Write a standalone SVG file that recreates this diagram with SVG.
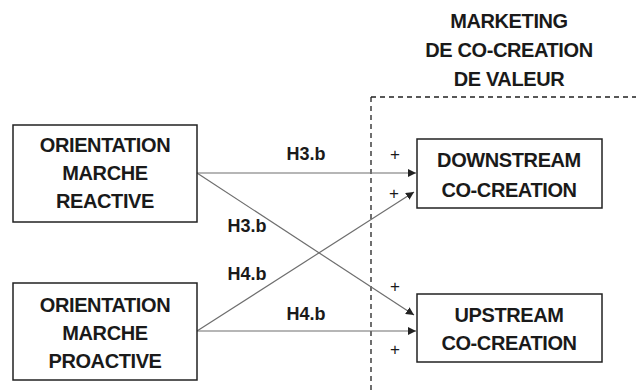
<svg xmlns="http://www.w3.org/2000/svg" width="636" height="390" viewBox="0 0 636 390">
<defs>
<style>
.box{fill:#fff;stroke:#222;stroke-width:1.5}
.t{font-family:"Liberation Sans",Arial,sans-serif;font-weight:bold;font-size:20px;letter-spacing:-0.4px;fill:#1a1a1a;text-anchor:middle}
.lbl{font-family:"Liberation Sans",Arial,sans-serif;font-weight:bold;font-size:18px;fill:#1a1a1a;text-anchor:middle}
.plus{font-family:"Liberation Sans",Arial,sans-serif;font-size:17px;fill:#1a1a1a;text-anchor:middle}
.edge{stroke:#6e6e6e;stroke-width:1.2;fill:none;marker-end:url(#ah)}
.dash{stroke:#222;stroke-width:1.3;stroke-dasharray:5,4;fill:none}
</style>
<marker id="ah" viewBox="0 0 10 10" refX="10" refY="5" markerWidth="8" markerHeight="8" markerUnits="userSpaceOnUse" orient="auto">
<path d="M0,0 L10,5 L0,10 z" fill="#222"/>
</marker>
</defs>
<rect width="636" height="390" fill="#fff"/>
<g id="region">
<path class="dash" d="M371,97 H636 M371,97 V390"/>
<text class="t" x="509" y="28">MARKETING</text>
<text class="t" x="509" y="57">DE CO-CREATION</text>
<text class="t" x="509" y="86">DE VALEUR</text>
</g>
<g id="connectors">
<line class="edge" x1="197" y1="173" x2="416" y2="173"/>
<line class="edge" x1="197" y1="173" x2="414" y2="315"/>
<line class="edge" x1="197" y1="331" x2="414" y2="192"/>
<line class="edge" x1="197" y1="331" x2="416" y2="331"/>
<text class="lbl" x="306" y="160">H3.b</text>
<text class="lbl" x="247" y="232">H3.b</text>
<text class="lbl" x="247" y="280">H4.b</text>
<text class="lbl" x="306" y="320">H4.b</text>
<text class="plus" x="395" y="160">+</text>
<text class="plus" x="394" y="199">+</text>
<text class="plus" x="395" y="292">+</text>
<text class="plus" x="395" y="355">+</text>
</g>
<g id="reactive">
<rect class="box" x="13" y="125" width="184" height="97"/>
<text class="t" x="105" y="152">ORIENTATION</text>
<text class="t" x="105" y="180">MARCHE</text>
<text class="t" x="105" y="208">REACTIVE</text>
</g>
<g id="proactive">
<rect class="box" x="13" y="283" width="184" height="97"/>
<text class="t" x="105" y="312">ORIENTATION</text>
<text class="t" x="105" y="340">MARCHE</text>
<text class="t" x="105" y="368">PROACTIVE</text>
</g>
<g id="downstream">
<rect class="box" x="417" y="139" width="185" height="69"/>
<text class="t" x="509" y="167">DOWNSTREAM</text>
<text class="t" x="509" y="197">CO-CREATION</text>
</g>
<g id="upstream">
<rect class="box" x="417" y="294" width="185" height="68"/>
<text class="t" x="509" y="322">UPSTREAM</text>
<text class="t" x="509" y="350">CO-CREATION</text>
</g>
</svg>
